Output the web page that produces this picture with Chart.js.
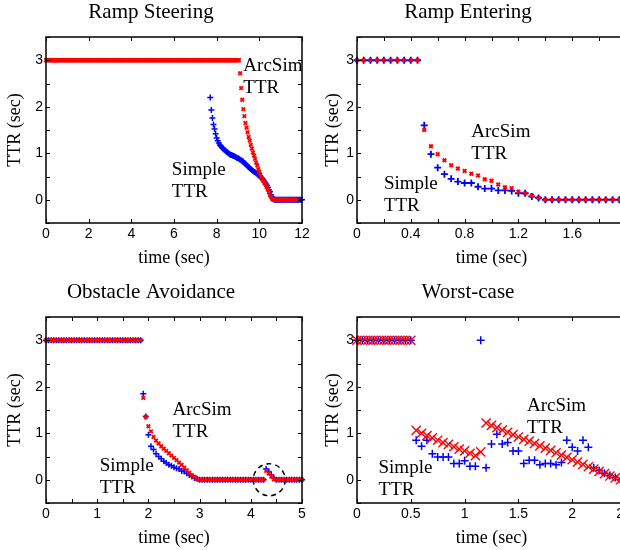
<!DOCTYPE html>
<html>
<head>
<meta charset="utf-8">
<script src="https://cdn.jsdelivr.net/npm/chart.js@4.4.1/dist/chart.umd.min.js"></script>
<style>
  body { margin: 0; background: #fff; }
  #figure { position: relative; width: 620px; height: 550px; overflow: hidden; background: #fff; }
  #figure canvas { position: absolute; }
</style>
</head>
<body>
<div id="figure">
  <canvas id="steerChart"></canvas>
  <canvas id="enterChart"></canvas>
  <canvas id="obstacleChart"></canvas>
  <canvas id="worstChart"></canvas>
</div>
<script>
// every series is sampled every 0.05 s from its start time
const STEP = 0.05;

// y axis is the same for all four panels
const yTicks = [-0.5, 0, 0.5, 1, 1.5, 2, 2.5, 3, 3.5];
const yLabels = [0, 1, 2, 3];

// Ramp Steering
const steerXTicks = [0, 2, 4, 6, 8, 10, 12];
const steerXLabels = [0, 2, 4, 6, 8, 10, 12];
const steerSimpleStart = 7.7;
const steerSimple = [
    2.2, 1.93, 1.76, 1.62, 1.52, 1.42, 1.33, 1.27, 1.22, 1.18, 1.15, 1.12, 1.1, 1.08, 1.06,
    1.04, 1.02, 1.0, 0.98, 0.97, 0.96, 0.95, 0.94, 0.93, 0.92, 0.9, 0.89, 0.88, 0.86, 0.85,
    0.83, 0.82, 0.79, 0.77, 0.75, 0.72, 0.7, 0.68, 0.66, 0.64, 0.62, 0.6, 0.59, 0.57, 0.56,
    0.54, 0.52, 0.49, 0.47, 0.45, 0.42, 0.38, 0.35, 0.31, 0.27, 0.21, 0.17, 0.11, 0.06, 0.02,
    0, 0, 0, 0, 0, 0, 0, 0, 0, 0, 0, 0, 0, 0, 0, 0, 0, 0, 0, 0, 0, 0, 0, 0, 0, 0, 0
];
const steerArcSimStart = 0;
const steerArcSim = [
    3, 3, 3, 3, 3, 3, 3, 3, 3, 3, 3, 3, 3, 3, 3, 3, 3, 3, 3, 3, 3, 3, 3, 3, 3, 3,
    3, 3, 3, 3, 3, 3, 3, 3, 3, 3, 3, 3, 3, 3, 3, 3, 3, 3, 3, 3, 3, 3, 3, 3, 3, 3,
    3, 3, 3, 3, 3, 3, 3, 3, 3, 3, 3, 3, 3, 3, 3, 3, 3, 3, 3, 3, 3, 3, 3, 3, 3, 3,
    3, 3, 3, 3, 3, 3, 3, 3, 3, 3, 3, 3, 3, 3, 3, 3, 3, 3, 3, 3, 3, 3, 3, 3, 3, 3,
    3, 3, 3, 3, 3, 3, 3, 3, 3, 3, 3, 3, 3, 3, 3, 3, 3, 3, 3, 3, 3, 3, 3, 3, 3, 3,
    3, 3, 3, 3, 3, 3, 3, 3, 3, 3, 3, 3, 3, 3, 3, 3, 3, 3, 3, 3, 3, 3, 3, 3, 3, 3,
    3, 3, 3, 3, 3, 3, 3, 3, 3, 3, 3, 3, 3, 3, 3, 3, 3, 3, 3, 3, 3, 3, 3, 3, 3, 3,
    2.72, 2.4, 2.15, 1.95, 1.8, 1.65, 1.55, 1.45, 1.35, 1.27, 1.18, 1.1, 1.02, 0.95, 0.88, 0.8,
    0.74, 0.66, 0.6, 0.54, 0.48, 0.44, 0.4, 0.36, 0.32, 0.27, 0.22, 0.16, 0.1, 0.06, 0.02,
    0, 0, 0, 0, 0, 0, 0, 0, 0, 0, 0, 0, 0, 0, 0, 0, 0, 0, 0, 0, 0, 0, 0
];

// Ramp Entering
const enterXTicks = [0, 0.2, 0.4, 0.6, 0.8, 1, 1.2, 1.4, 1.6, 1.8, 2];
const enterXLabels = [0, 0.4, 0.8, 1.2, 1.6, 2];
const enterSimple = [
    3, 3, 3, 3, 3, 3, 3, 3, 3, 3,
    1.6, 0.98, 0.69, 0.55, 0.45, 0.39, 0.36, 0.36, 0.28, 0.24, 0.24, 0.2, 0.2, 0.19, 0.14, 0.14, 0.07, 0.04,
    0, 0, 0, 0, 0, 0, 0, 0, 0, 0, 0, 0, 0
];
const enterArcSim = [
    3, 3, 3, 3, 3, 3, 3, 3, 3, 3,
    1.5, 1.15, 0.98, 0.85, 0.74, 0.67, 0.62, 0.56, 0.52, 0.44, 0.41, 0.33, 0.27, 0.25, 0.17, 0.14, 0.09, 0.04,
    0, 0, 0, 0, 0, 0, 0, 0, 0, 0, 0, 0, 0
];

// Obstacle Avoidance
const obstacleXTicks = [0, 0.5, 1, 1.5, 2, 2.5, 3, 3.5, 4, 4.5, 5];
const obstacleXLabels = [0, 1, 2, 3, 4, 5];
const obstacleSimple = [
    3, 3, 3, 3, 3, 3, 3, 3, 3, 3, 3, 3, 3, 3, 3, 3, 3, 3, 3,
    3, 3, 3, 3, 3, 3, 3, 3, 3, 3, 3, 3, 3, 3, 3, 3, 3, 3, 3,
    1.85, 1.36, 0.97, 0.72, 0.65, 0.56, 0.5, 0.45, 0.4, 0.36, 0.32, 0.3, 0.27, 0.25, 0.23, 0.19,
    0.18, 0.14, 0.1, 0.07, 0.04, 0.02,
    0, 0, 0, 0, 0, 0, 0, 0, 0, 0, 0, 0, 0, 0, 0, 0, 0, 0, 0, 0, 0, 0, 0, 0, 0, 0,
    0.23, 0.18, 0.1, 0.04,
    0, 0, 0, 0, 0, 0, 0, 0, 0, 0, 0
];
const obstacleArcSim = [
    3, 3, 3, 3, 3, 3, 3, 3, 3, 3, 3, 3, 3, 3, 3, 3, 3, 3, 3,
    3, 3, 3, 3, 3, 3, 3, 3, 3, 3, 3, 3, 3, 3, 3, 3, 3, 3, 3,
    1.76, 1.35, 1.15, 1.04, 0.92, 0.84, 0.78, 0.72, 0.67, 0.62, 0.57, 0.52, 0.47, 0.42, 0.37, 0.32,
    0.26, 0.2, 0.15, 0.1, 0.06, 0.02,
    0, 0, 0, 0, 0, 0, 0, 0, 0, 0, 0, 0, 0, 0, 0, 0, 0, 0, 0, 0, 0, 0, 0, 0, 0, 0,
    0.19, 0.14, 0.07, 0.01,
    0, 0, 0, 0, 0, 0, 0, 0, 0, 0, 0
];

// Worst-case
const worstXTicks = [0, 0.5, 1, 1.5, 2, 2.5];
const worstXLabels = [0, 0.5, 1, 1.5, 2, 2.5];
const worstSimple = [
    3, 3, 3, 3, 3, 3, 3, 3, 3, 3, 3,
    0.85, 0.72, 0.85, 0.56, 0.49, 0.49, 0.49, 0.35, 0.35, 0.41, 0.29, 0.29, 3, 0.26, 0.77, 0.98,
    0.77, 0.8, 0.62, 0.62, 0.35, 0.42, 0.42, 0.32, 0.35, 0.35, 0.32, 0.37, 0.85, 0.7, 0.62, 0.85,
    0.7, 0.26, 0.2, 0.14, 0.09, 0.05, 0, 0
];
const worstArcSim = [
    3, 3, 3, 3, 3, 3, 3, 3, 3, 3, 3,
    1.06, 1.0, 0.95, 0.9, 0.85, 0.8, 0.76, 0.71, 0.66, 0.62, 0.57, 0.52, 0.6, 1.22, 1.17, 1.12,
    1.07, 1.02, 0.97, 0.92, 0.87, 0.83, 0.78, 0.73, 0.68, 0.63, 0.58, 0.53, 0.48, 0.43, 0.38, 0.33,
    0.28, 0.23, 0.18, 0.13, 0.08, 0.04, 0, -0.03
];

const BLUE = '#0000ff';
const RED = '#ff0000';

function series(start, values) {
    return values.map((v, i) => ({ x: Math.round((start + i * STEP) * 100) / 100, y: v }));
}

// box round the plot area with inward ticks on all four sides
const framePlugin = {
    id: 'frame',
    afterDraw(chart) {
        const { ctx, chartArea: a, scales: { x, y } } = chart;
        ctx.save();
        ctx.strokeStyle = '#000';
        ctx.lineWidth = 1;
        ctx.beginPath();
        x.ticks.forEach(t => {
            const px = Math.round(x.getPixelForValue(t.value)) + 0.5;
            ctx.moveTo(px, a.bottom); ctx.lineTo(px, a.bottom - 4);
            ctx.moveTo(px, a.top); ctx.lineTo(px, a.top + 4);
        });
        y.ticks.forEach(t => {
            const py = Math.round(y.getPixelForValue(t.value)) + 0.5;
            ctx.moveTo(a.left, py); ctx.lineTo(a.left + 4, py);
            ctx.moveTo(a.right, py); ctx.lineTo(a.right - 4, py);
        });
        ctx.stroke();
        ctx.lineWidth = 1.5;
        ctx.strokeRect(a.left, a.top, a.right - a.left, a.bottom - a.top);
        ctx.restore();
    }
};

// "ArcSim TTR" / "Simple TTR" labels and the dashed circle
const notesPlugin = {
    id: 'ttrNotes',
    afterDatasetsDraw(chart, args, opts) {
        const { ctx, scales: { x, y } } = chart;
        ctx.save();
        ctx.fillStyle = '#000';
        ctx.font = '19px "Liberation Serif"';
        ctx.textAlign = 'left';
        ctx.textBaseline = 'middle';
        (opts.notes || []).forEach(n => {
            const px = x.getPixelForValue(n.x);
            const py = y.getPixelForValue(n.y);
            n.lines.forEach((line, i) => ctx.fillText(line, px, py + i * 22));
        });
        if (opts.circle) {
            const c = opts.circle;
            ctx.strokeStyle = '#000';
            ctx.lineWidth = 1.5;
            ctx.setLineDash([5, 4]);
            ctx.beginPath();
            ctx.arc(x.getPixelForValue(c.x), y.getPixelForValue(c.y), c.r, 0, Math.PI * 2);
            ctx.stroke();
        }
        ctx.restore();
    }
};

const panels = [
    {
        id: 'steerChart', title: 'Ramp Steering', left: 0, top: 0, width: 310, padRight: 8,
        yWidth: 46, yTitlePad: 4, xMax: 12, xTicks: steerXTicks, xLabels: steerXLabels,
        simple: series(steerSimpleStart, steerSimple), arcSim: series(steerArcSimStart, steerArcSim),
        simpleMark: [3, 1.5], arcMark: [2.5, 1.8],
        notes: [{ x: 9.25, y: 2.87, lines: ['ArcSim', 'TTR'] }, { x: 5.9, y: 0.64, lines: ['Simple', 'TTR'] }]
    },
    {
        id: 'enterChart', title: 'Ramp Entering', left: 310, top: 0, width: 325, padRight: 9,
        yWidth: 47, yTitlePad: 12, xMax: 2, xTicks: enterXTicks, xLabels: enterXLabels,
        simple: series(0, enterSimple), arcSim: series(0, enterArcSim),
        simpleMark: [3.5, 1.8], arcMark: [2.5, 2],
        notes: [{ x: 0.85, y: 1.46, lines: ['ArcSim', 'TTR'] }, { x: 0.2, y: 0.34, lines: ['Simple', 'TTR'] }]
    },
    {
        id: 'obstacleChart', title: 'Obstacle Avoidance', left: 0, top: 280, width: 355, padRight: 53,
        yWidth: 46, yTitlePad: 4, xMax: 5, xTicks: obstacleXTicks, xLabels: obstacleXLabels,
        simple: series(0, obstacleSimple), arcSim: series(0, obstacleArcSim),
        simpleMark: [3, 1.5], arcMark: [2.5, 1.8],
        notes: [{ x: 2.47, y: 1.49, lines: ['ArcSim', 'TTR'] }, { x: 1.05, y: 0.3, lines: ['Simple', 'TTR'] }],
        circle: { x: 4.36, y: 0, r: 16 }
    },
    {
        id: 'worstChart', title: 'Worst-case', left: 310, top: 280, width: 384, padRight: 68,
        yWidth: 47, yTitlePad: 12, xMax: 2.5, xTicks: worstXTicks, xLabels: worstXLabels,
        simple: series(0, worstSimple), arcSim: series(0, worstArcSim),
        simpleMark: [4, 1.5], arcMark: [6.5, 1.4],
        notes: [{ x: 1.58, y: 1.58, lines: ['ArcSim', 'TTR'] }, { x: 0.2, y: 0.25, lines: ['Simple', 'TTR'] }]
    }
];

panels.forEach(p => {
    const canvas = document.getElementById(p.id);
    canvas.width = p.width;
    canvas.height = 270;
    canvas.style.left = p.left + 'px';
    canvas.style.top = p.top + 'px';
    canvas.style.width = p.width + 'px';
    canvas.style.height = '270px';

    new Chart(canvas.getContext('2d'), {
        type: 'scatter',
        data: {
            datasets: [
                {
                    label: 'ArcSim TTR', data: p.arcSim, pointStyle: 'crossRot',
                    pointRadius: p.arcMark[0], pointBorderWidth: p.arcMark[1],
                    borderColor: RED, backgroundColor: RED, clip: false
                },
                {
                    label: 'Simple TTR', data: p.simple, pointStyle: 'cross',
                    pointRadius: p.simpleMark[0], pointBorderWidth: p.simpleMark[1],
                    borderColor: BLUE, backgroundColor: BLUE, clip: false
                }
            ]
        },
        options: {
            responsive: false,
            animation: false,
            devicePixelRatio: 1,
            events: [],
            layout: { padding: { left: 0, right: p.padRight, top: 0, bottom: 0 } },
            plugins: {
                legend: { display: false },
                tooltip: { enabled: false },
                title: {
                    display: true, text: p.title, color: '#000',
                    font: { family: 'Liberation Serif', size: 21, weight: 'normal' },
                    padding: { top: 0, bottom: 11.8 }
                },
                ttrNotes: { notes: p.notes, circle: p.circle }
            },
            scales: {
                x: {
                    type: 'linear', min: 0, max: p.xMax,
                    grid: { display: false, drawTicks: false },
                    border: { display: false },
                    afterBuildTicks: s => { s.ticks = p.xTicks.map(v => ({ value: v })); },
                    afterFit: s => { s.height = 47; s.paddingLeft = 0; s.paddingRight = 0; },
                    ticks: {
                        autoSkip: false, maxRotation: 0, padding: 3, color: '#000',
                        font: { family: 'Liberation Sans', size: 14 },
                        callback: v => p.xLabels.includes(v) ? String(v) : ''
                    },
                    title: {
                        display: true, text: 'time (sec)', color: '#000',
                        font: { family: 'Liberation Serif', size: 18 },
                        padding: { top: 0, bottom: 1 }
                    }
                },
                y: {
                    type: 'linear', min: -0.5, max: 3.5,
                    grid: { display: false, drawTicks: false },
                    border: { display: false },
                    afterBuildTicks: s => { s.ticks = yTicks.map(v => ({ value: v })); },
                    afterFit: s => { s.width = p.yWidth; s.paddingTop = 0; s.paddingBottom = 0; },
                    ticks: {
                        autoSkip: false, padding: 3, color: '#000',
                        font: { family: 'Liberation Sans', size: 14 },
                        callback: v => yLabels.includes(v) ? String(v) : ''
                    },
                    title: {
                        display: true, text: 'TTR (sec)', color: '#000',
                        font: { family: 'Liberation Serif', size: 18 },
                        padding: { top: p.yTitlePad, bottom: 0 }
                    }
                }
            }
        },
        plugins: [framePlugin, notesPlugin]
    });
});
</script>
</body>
</html>
